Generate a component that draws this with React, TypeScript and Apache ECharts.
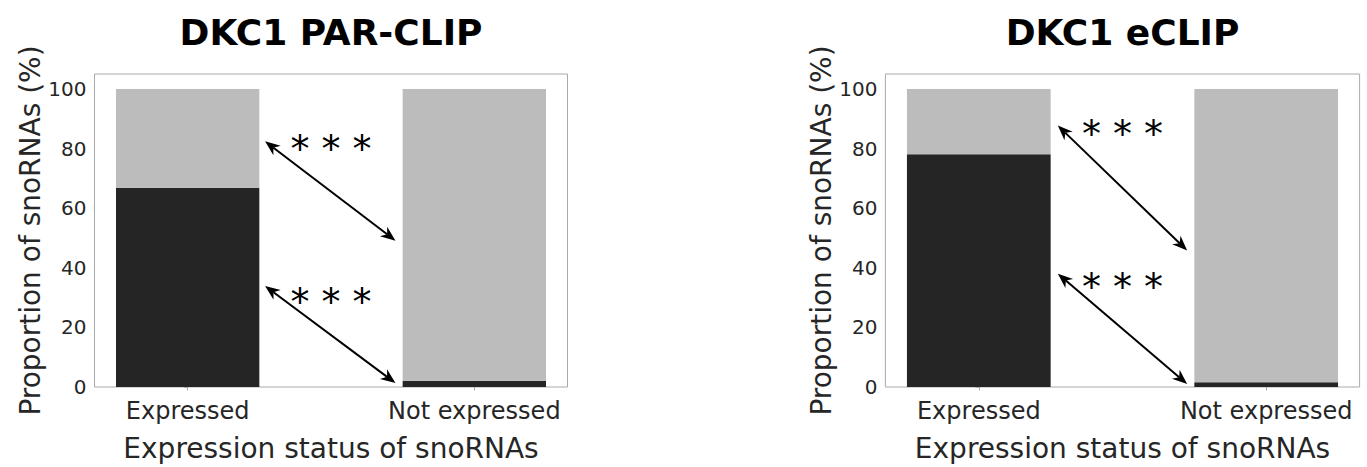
import React, { useEffect, useRef } from 'react';
import * as echarts from 'echarts';

const TITLES = ['DKC1 PAR-CLIP', 'DKC1 eCLIP'];
const CATEGORIES = ['Expressed', 'Not expressed'];
const CAT_POS = [0, 1];
const Y_TICKS = [0, 20, 40, 60, 80, 100];
const X_NAME = 'Expression status of snoRNAs';
const Y_NAME = 'Proportion of snoRNAs (%)';
const STAR_TEXT = '* * *';

// proportion (%) of snoRNAs: dark = bound, grey = rest
const PARCLIP_DARK = [66.8, 2.1];
const PARCLIP_GREY = [33.2, 97.9];
const ECLIP_DARK = [78.1, 1.6];
const ECLIP_GREY = [21.9, 98.4];

// arrows [x0, y0, x1, y1] in data coordinates
const PARCLIP_ARROWS = [
  [0.27, 82.4, 0.725, 49.1],
  [0.27, 33.9, 0.725, 1.3],
];
const ECLIP_ARROWS = [
  [0.275, 87.7, 0.725, 45.8],
  [0.275, 38.0, 0.725, 1.0],
];
// significance stars [x, y]
const PARCLIP_STARS = [
  [0.5, 82.4],
  [0.5, 31.3],
];
const ECLIP_STARS = [
  [0.5, 87.4],
  [0.5, 36.3],
];

const FONT = 'DejaVu Sans';
const DARK = '#252525';
const GREY = '#bcbcbc';
const SPINE = '#aaaaaa';
const TEXT = '#262626';
const BAR_WIDTH = 0.5;

const GRIDS = [
  { left: 94.5, top: 74, width: 473, height: 315 },
  { left: 885.4, top: 74, width: 474.2, height: 315 },
];

function barRender(params: any, api: any) {
  const x = api.value(0);
  const base = api.value(1);
  const v = api.value(2);
  const p0 = api.coord([x - BAR_WIDTH / 2, base + v]);
  const p1 = api.coord([x + BAR_WIDTH / 2, base]);
  return {
    type: 'rect',
    shape: { x: p0[0], y: p0[1], width: p1[0] - p0[0], height: p1[1] - p0[1] },
    style: { fill: api.visual('color') },
  };
}

function arrowRender(params: any, api: any) {
  const p0 = api.coord([api.value(0), api.value(1)]);
  const p1 = api.coord([api.value(2), api.value(3)]);
  const dx = p1[0] - p0[0];
  const dy = p1[1] - p0[1];
  const len = Math.sqrt(dx * dx + dy * dy);
  const ux = dx / len;
  const uy = dy / len;
  const nx = -uy;
  const ny = ux;
  const L = 15;
  const W = 6;
  const N = 4.5;
  const head = (tip: number[], dir: number) => {
    const bx = tip[0] - dir * L * ux;
    const by = tip[1] - dir * L * uy;
    return [
      [tip[0], tip[1]],
      [bx + W * nx, by + W * ny],
      [tip[0] - dir * (L - N) * ux, tip[1] - dir * (L - N) * uy],
      [bx - W * nx, by - W * ny],
    ];
  };
  const h0 = head(p0, -1);
  const h1 = head(p1, 1);
  return {
    type: 'group',
    children: [
      {
        type: 'line',
        shape: { x1: h0[2][0], y1: h0[2][1], x2: h1[2][0], y2: h1[2][1] },
        style: { stroke: '#000', lineWidth: 2 },
      },
      { type: 'polygon', shape: { points: h0 }, style: { fill: '#000' } },
      { type: 'polygon', shape: { points: h1 }, style: { fill: '#000' } },
    ],
  };
}

function starRender(params: any, api: any) {
  const p = api.coord([api.value(0), api.value(1)]);
  return {
    type: 'text',
    x: p[0],
    y: p[1] + 8,
    style: {
      text: STAR_TEXT,
      fill: '#000',
      fontSize: 38,
      fontFamily: FONT,
      align: 'center',
      verticalAlign: 'middle',
    },
  };
}

function buildOption() {
  const panels = [
    { dark: PARCLIP_DARK, grey: PARCLIP_GREY, arrows: PARCLIP_ARROWS, stars: PARCLIP_STARS },
    { dark: ECLIP_DARK, grey: ECLIP_GREY, arrows: ECLIP_ARROWS, stars: ECLIP_STARS },
  ];
  const grid = GRIDS.map((g) => ({
    ...g,
    show: true,
    borderColor: SPINE,
    borderWidth: 1,
    backgroundColor: 'transparent',
  }));
  const xAxis = GRIDS.map((_, i) => ({
    type: 'value',
    gridIndex: i,
    min: -0.325,
    max: 1.325,
    splitLine: { show: false },
    axisLine: { show: false },
    axisTick: {
      show: true,
      length: 3.5,
      customValues: CAT_POS,
      lineStyle: { color: SPINE, width: 1 },
    },
    axisLabel: {
      customValues: CAT_POS,
      formatter: (v: number) => CATEGORIES[Math.round(v)],
      fontSize: 24,
      fontFamily: FONT,
      color: TEXT,
      margin: 12,
    },
    name: X_NAME,
    nameLocation: 'middle',
    nameGap: 47,
    nameTextStyle: { fontSize: 28, fontFamily: FONT, color: TEXT },
  }));
  const yAxis = GRIDS.map((_, i) => ({
    type: 'value',
    gridIndex: i,
    min: 0,
    max: 105,
    splitLine: { show: false },
    axisLine: { show: false },
    axisTick: {
      show: true,
      length: 3.5,
      customValues: Y_TICKS,
      lineStyle: { color: SPINE, width: 1 },
    },
    axisLabel: {
      customValues: Y_TICKS,
      fontSize: 20,
      fontFamily: FONT,
      color: TEXT,
      margin: 8,
    },
    name: Y_NAME,
    nameLocation: 'middle',
    nameRotate: 90,
    nameGap: 50,
    nameTextStyle: { fontSize: 28, fontFamily: FONT, color: TEXT },
  }));
  const series: any[] = [];
  panels.forEach((p, i) => {
    series.push({
      type: 'custom',
      name: 'dark' + i,
      xAxisIndex: i,
      yAxisIndex: i,
      z: 2,
      encode: { x: 0, y: [1, 2] },
      itemStyle: { color: DARK },
      data: CAT_POS.map((x, k) => [x, 0, p.dark[k]]),
      renderItem: barRender,
    });
    series.push({
      type: 'custom',
      name: 'grey' + i,
      xAxisIndex: i,
      yAxisIndex: i,
      z: 2,
      encode: { x: 0, y: [1, 2] },
      itemStyle: { color: GREY },
      data: CAT_POS.map((x, k) => [x, p.dark[k], p.grey[k]]),
      renderItem: barRender,
    });
    series.push({
      type: 'custom',
      xAxisIndex: i,
      yAxisIndex: i,
      z: 5,
      encode: { x: [0, 2], y: [1, 3] },
      data: p.arrows,
      renderItem: arrowRender,
    });
    series.push({
      type: 'custom',
      xAxisIndex: i,
      yAxisIndex: i,
      z: 6,
      encode: { x: 0, y: 1 },
      data: p.stars,
      renderItem: starRender,
    });
  });
  const graphic = TITLES.map((t, i) => ({
    type: 'text',
    x: GRIDS[i].left + GRIDS[i].width / 2,
    y: 32,
    style: {
      text: t,
      fill: '#000',
      fontSize: 36,
      fontWeight: 'bold',
      fontFamily: FONT,
      align: 'center',
      verticalAlign: 'middle',
    },
  }));
  return {
    animation: false,
    backgroundColor: '#ffffff',
    textStyle: { fontFamily: FONT },
    grid,
    xAxis,
    yAxis,
    series,
    graphic,
  };
}

export default function App() {
  const ref = useRef<HTMLDivElement>(null);
  useEffect(() => {
    if (!ref.current) return;
    const chart = echarts.init(ref.current, null, { renderer: 'svg' });
    chart.setOption(buildOption() as any);
    return () => chart.dispose();
  }, []);
  return (
    <div
      ref={ref}
      style={{ position: 'absolute', left: 0, top: 0, width: 1367, height: 467, background: '#fff' }}
    />
  );
}
